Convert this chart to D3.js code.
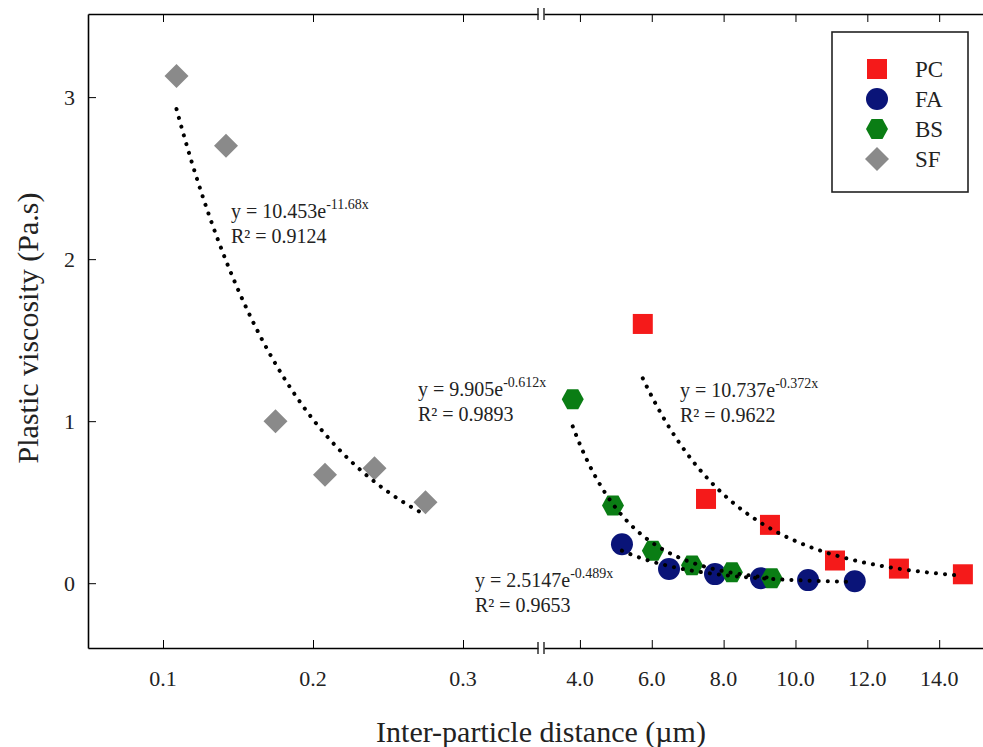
<!DOCTYPE html>
<html>
<head>
<meta charset="utf-8">
<script src="https://cdn.jsdelivr.net/npm/d3@7"></script>
<style>
  body { margin: 0; background: #fff; }
  text { font-family: "Liberation Serif", "Times New Roman", serif; fill: #222; }
</style>
</head>
<body>
<svg id="chart" width="983" height="747"></svg>
<script>
/* values */
const seriesNames = ['PC', 'FA', 'BS', 'SF'];
const pcX = [5.75, 7.51, 9.29, 11.10, 12.88, 14.66];
const pcY = [1.60, 0.52, 0.36, 0.14, 0.09, 0.055];
const faX = [5.17, 6.48, 7.76, 9.04, 10.35, 11.65];
const faY = [0.24, 0.087, 0.056, 0.031, 0.019, 0.012];
const bsX = [3.80, 4.92, 6.03, 7.12, 8.23, 9.34];
const bsY = [1.135, 0.48, 0.20, 0.11, 0.068, 0.031];
const sfX = [0.109, 0.142, 0.175, 0.208, 0.241, 0.275];
const sfY = [3.13, 2.70, 1.00, 0.67, 0.71, 0.50];

// fitted trendlines: y = a * exp(b * x)
const fitA = [10.737, 2.5147, 9.905, 10.453];
const fitB = [-0.372, -0.489, -0.612, -11.68];
const fitR2 = ['0.9622', '0.9653', '0.9893', '0.9124'];
const fitText = ['10.737e', '2.5147e', '9.905e', '10.453e'];
const fitExp = ['-0.372x', '-0.489x', '-0.612x', '-11.68x'];

const leftTicks = [0.1, 0.2, 0.3];
const rightTicks = [4, 6, 8, 10, 12, 14];
const yTicks = [0, 1, 2, 3];

const colors = ['#f51a1a', '#0a1478', '#0a7d14', '#8a8a8a'];

const svg = d3.select('#chart');
const plotTop = 14, plotBottom = 648, plotLeft = 88, plotRight = 983;
const breakL = 538, breakR = 544;

const xLeft = d3.scaleLinear().domain([0.05, 0.35]).range([plotLeft, breakL]);
const xRight = d3.scaleLinear().domain([3, 15.22]).range([breakR, plotRight]);
const y = d3.scaleLinear().domain([-0.4, 3.513]).range([plotBottom, plotTop]);

const series = [
  {x: pcX, y: pcY, scale: xRight, shape: 'square'},
  {x: faX, y: faY, scale: xRight, shape: 'circle'},
  {x: bsX, y: bsY, scale: xRight, shape: 'hex'},
  {x: sfX, y: sfY, scale: xLeft, shape: 'diamond'}
];

/* axes: left y axis, bottom and top x axes split at the break */
svg.append('g').attr('transform', `translate(${plotLeft},0)`)
  .call(d3.axisRight(y).tickValues(yTicks).tickSize(8).tickSizeOuter(0).tickFormat(''))
  .call(g => g.select('.domain').attr('stroke-width', 1.6));
svg.append('g').selectAll('text').data(yTicks).join('text')
  .attr('x', plotLeft - 13).attr('y', d => y(d) + 8)
  .attr('text-anchor', 'end').attr('font-size', 22).text(d => d);

function xAxes(pos, axisFn) {
  [[xLeft, leftTicks], [xRight, rightTicks]].forEach(([sc, tv]) => {
    svg.append('g').attr('transform', `translate(0,${pos})`)
      .call(axisFn(sc).tickValues(tv).tickSize(8).tickSizeOuter(0).tickFormat(''))
      .call(g => g.select('.domain').attr('stroke-width', 1.6));
  });
  // break marks
  [breakL, breakR].forEach(bx => {
    svg.append('line').attr('x1', bx).attr('x2', bx)
      .attr('y1', pos - 6).attr('y2', pos + 6)
      .attr('stroke', '#222').attr('stroke-width', 1.4);
  });
}
xAxes(plotBottom, d3.axisTop);
xAxes(plotTop, d3.axisBottom);

const fmtL = d3.format('.1f');
svg.append('g').selectAll('text').data(leftTicks).join('text')
  .attr('x', d => xLeft(d)).attr('y', plotBottom + 38)
  .attr('text-anchor', 'middle').attr('font-size', 22).text(d => fmtL(d));
svg.append('g').selectAll('text').data(rightTicks).join('text')
  .attr('x', d => xRight(d)).attr('y', plotBottom + 38)
  .attr('text-anchor', 'middle').attr('font-size', 22).text(d => fmtL(d));

svg.append('text').attr('x', 541).attr('y', 742)
  .attr('text-anchor', 'middle').attr('font-size', 30).text('Inter-particle distance (\u00b5m)');
svg.append('text').attr('transform', 'translate(38,328) rotate(-90)')
  .attr('text-anchor', 'middle').attr('font-size', 30).text('Plastic viscosity (Pa.s)');

/* markers */
function marker(sel, shape, color) {
  if (shape === 'circle') {
    sel.append('circle').attr('r', 11).attr('fill', color);
  } else if (shape === 'square') {
    sel.append('rect').attr('x', -10).attr('y', -10).attr('width', 20).attr('height', 20).attr('fill', color);
  } else if (shape === 'hex') {
    const pts = d3.range(6).map(i => {
      const a = Math.PI / 6 + i * Math.PI / 3;
      return [11 * Math.sin(a), 11.5 * Math.cos(a)];
    });
    sel.append('polygon').attr('points', pts.map(p => p.join(',')).join(' ')).attr('fill', color);
  } else {
    sel.append('polygon').attr('points', '0,-12 12,0 0,12 -12,0').attr('fill', color);
  }
}

// draw in back-to-front order similar to the source
[3, 0, 1, 2].forEach(i => {
  const s = series[i];
  s.x.forEach((xv, j) => {
    const g = svg.append('g').attr('transform', `translate(${s.scale(xv)},${y(s.y[j])})`);
    marker(g, s.shape, colors[i]);
  });
});

/* dotted trendlines on top of the markers */
const line = d3.line().curve(d3.curveLinear);
series.forEach((s, i) => {
  const x0 = d3.min(s.x), x1 = d3.max(s.x);
  const pts = d3.range(0, 101).map(k => {
    const xv = x0 + (x1 - x0) * k / 100;
    return [s.scale(xv), y(fitA[i] * Math.exp(fitB[i] * xv))];
  });
  svg.append('path').attr('d', line(pts)).attr('fill', 'none')
    .attr('stroke', '#000').attr('stroke-width', 4)
    .attr('stroke-linecap', 'round').attr('stroke-dasharray', '0.1 9');
});

/* equation labels */
const eqPos = [[680, 397], [475, 587], [418, 396], [231, 218]];
eqPos.forEach(([ex, ey], i) => {
  const t = svg.append('text').attr('x', ex).attr('y', ey).attr('font-size', 20);
  t.append('tspan').text('y = ' + fitText[i]);
  t.append('tspan').attr('font-size', 14).attr('dy', -9).text(fitExp[i]);
  svg.append('text').attr('x', ex).attr('y', ey + 25).attr('font-size', 20)
    .text('R\u00b2 = ' + fitR2[i]);
});

/* legend */
svg.append('rect').attr('x', 832).attr('y', 32).attr('width', 136).attr('height', 160)
  .attr('fill', '#fff').attr('stroke', '#222').attr('stroke-width', 1.6);
seriesNames.forEach((name, i) => {
  const ly = 69 + i * 30;
  const g = svg.append('g').attr('transform', `translate(877,${ly})`);
  marker(g, series[i].shape, colors[i]);
  svg.append('text').attr('x', 915).attr('y', ly + 8).attr('font-size', 23).text(name);
});
</script>
</body>
</html>
